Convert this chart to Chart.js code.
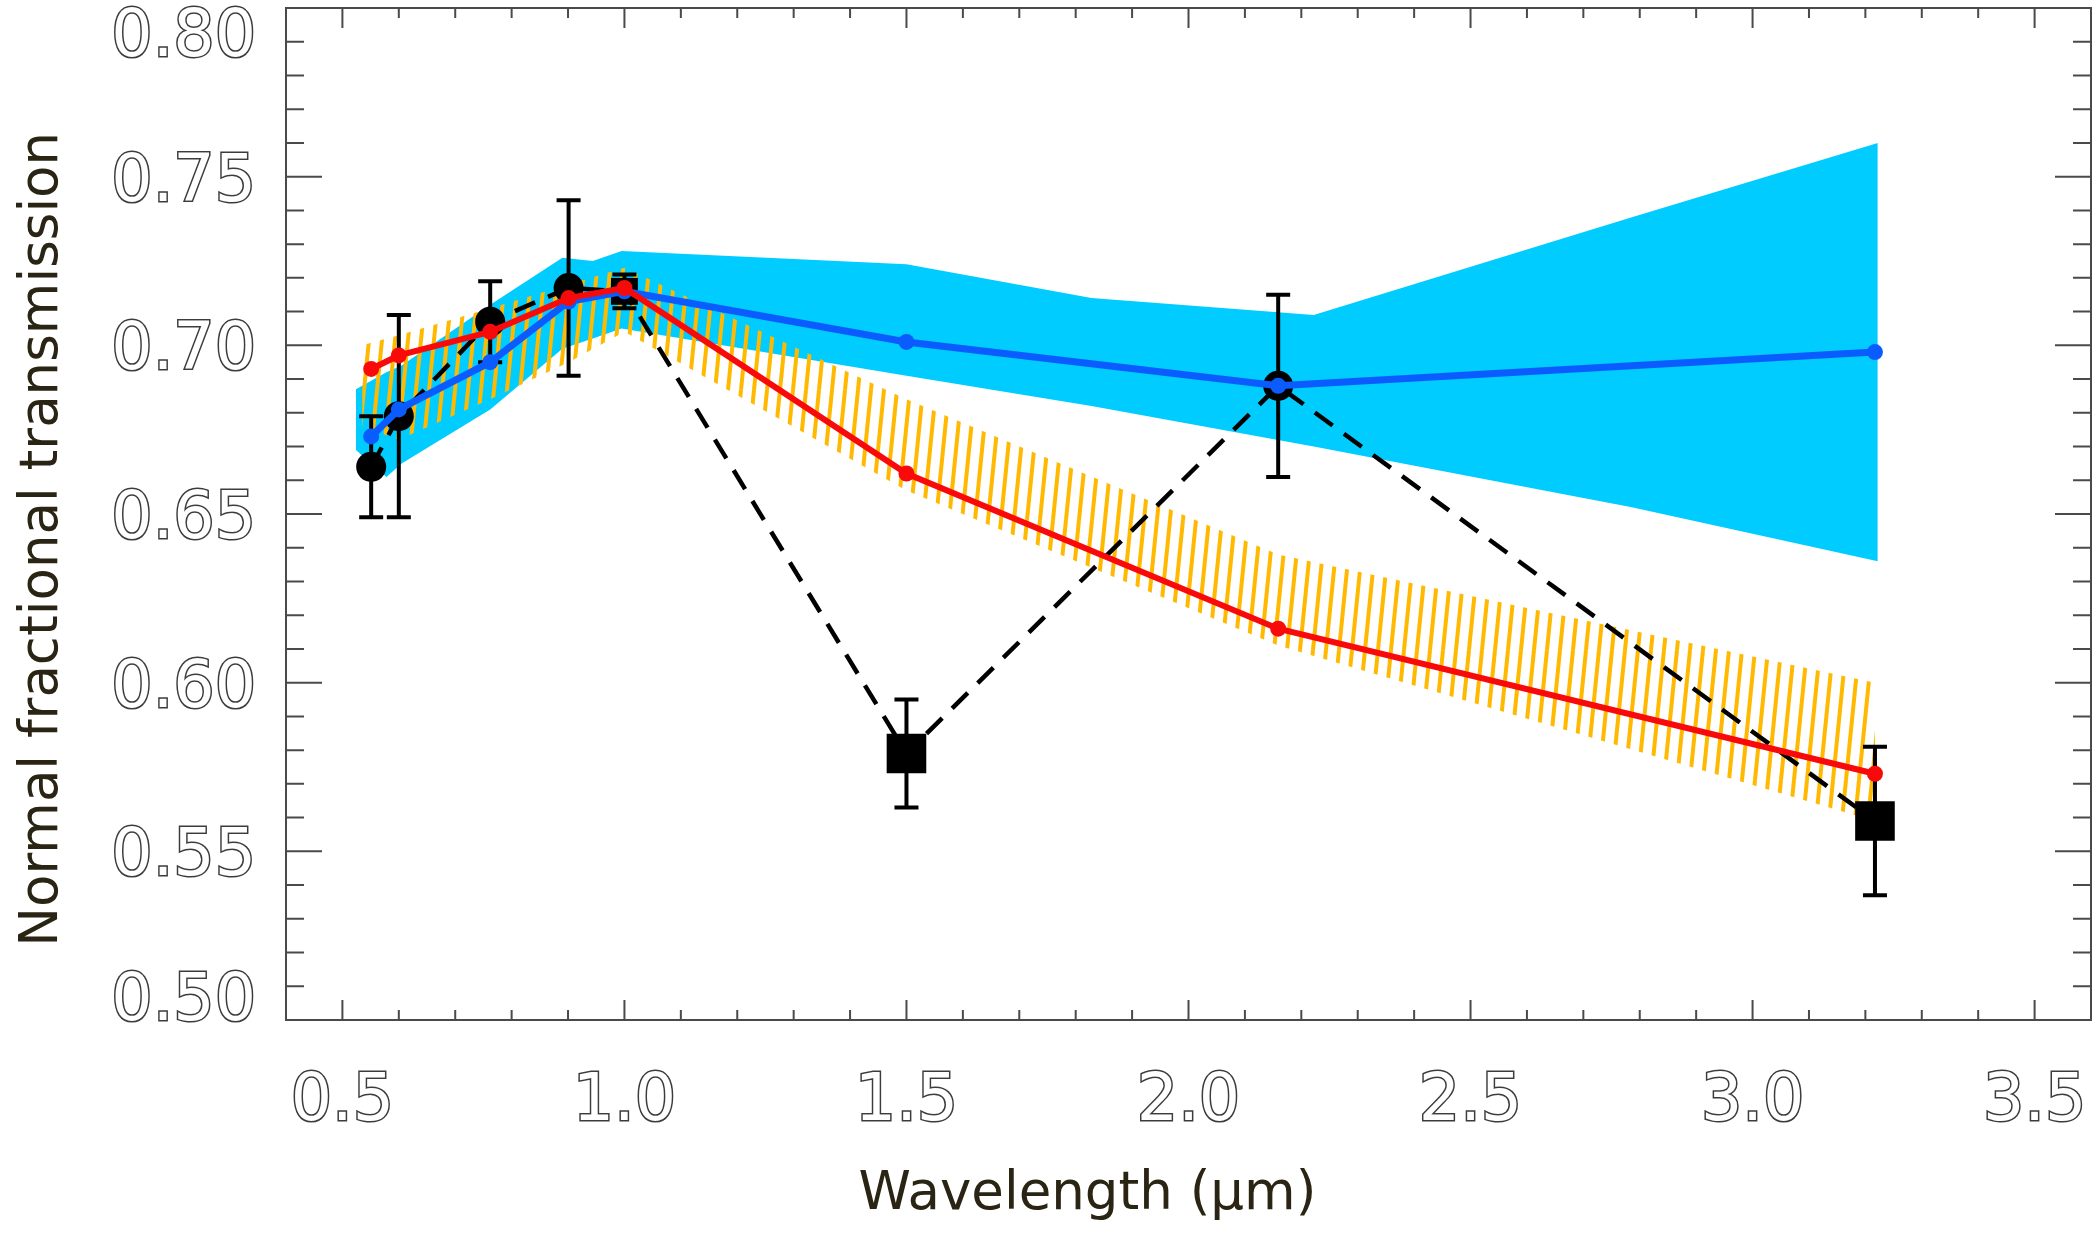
<!DOCTYPE html>
<html>
<head>
<meta charset="utf-8">
<title>Normal fractional transmission vs wavelength</title>
<script src="https://cdn.jsdelivr.net/npm/chart.js@4.4.1/dist/chart.umd.min.js"></script>
<style>
  html, body { margin: 0; padding: 0; background: #fff; overflow: hidden; }
  #wrap { width: 2100px; height: 1241px; }
  canvas { display: block; }
</style>
</head>
<body>
<div id="wrap"><canvas id="transmissionChart"></canvas></div>
<script>
// Observed points (black), wavelength in micron
const obsWavelength = [0.551, 0.600, 0.762, 0.901, 1.000, 1.500, 2.159, 3.217];
const obsTransmission = [0.664, 0.679, 0.707, 0.717, 0.716, 0.579, 0.688, 0.559];
const obsError = [0.015, 0.030, 0.012, 0.026, 0.005, 0.016, 0.027, 0.022];
const obsMarker = ['circle', 'circle', 'circle', 'circle', 'rect', 'rect', 'circle', 'rect'];

// Model curves, same wavelengths as the observations
const redModel = [0.693, 0.697, 0.704, 0.714, 0.717, 0.662, 0.616, 0.573];
const blueModel = [0.673, 0.681, 0.695, 0.713, 0.716, 0.701, 0.688, 0.698];

// Hatched orange envelope around the red model
const orangeBandX = [0.535, 0.600, 0.762, 0.901, 1.000, 1.500, 2.159, 3.217];
const orangeBandHigh = [0.700, 0.703, 0.711, 0.718, 0.723, 0.684, 0.638, 0.600];
const orangeBandLow = [0.676, 0.672, 0.684, 0.695, 0.704, 0.657, 0.611, 0.559];

// Cyan envelope around the blue model
const cyanBandX = [0.524, 0.578, 0.605, 0.762, 0.890, 0.944, 0.995, 1.500, 1.828, 2.222, 2.786, 3.222];
const cyanBandHigh = [0.687, 0.692, 0.694, 0.712, 0.726, 0.725, 0.728, 0.724, 0.714, 0.709, 0.738, 0.760];
const cyanBandLow = [0.669, 0.661, 0.665, 0.681, 0.699, 0.702, 0.705, 0.691, 0.682, 0.670, 0.652, 0.636];

const xTickValues = [0.5, 1.0, 1.5, 2.0, 2.5, 3.0, 3.5];
const yTickValues = [0.50, 0.55, 0.60, 0.65, 0.70, 0.75, 0.80];

const toPoints = (xs, ys) => xs.map((x, i) => ({ x: x, y: ys[i] }));

// steep orange hatch lines; tile is W wide and the line shifts W over its height so it joins up
function makeHatch() {
  const W = 13, H = 130;
  const c = document.createElement('canvas');
  c.width = W; c.height = H;
  const g = c.getContext('2d');
  g.strokeStyle = '#ffb900';
  g.lineWidth = 4;
  g.beginPath();
  for (let s = -W; s <= W; s += W) {
    g.moveTo(s, H); g.lineTo(s + W, 0);
  }
  g.stroke();
  return g.createPattern(c, 'repeat');
}

// vertical error bars with caps for datasets that carry an "errors" array
const errorBars = {
  id: 'errorBars',
  afterDatasetDraw(chart, args) {
    const ds = chart.data.datasets[args.index];
    if (!ds.errors) return;
    const y = chart.scales.y, ctx = chart.ctx;
    ctx.save();
    ctx.strokeStyle = '#000';
    ctx.lineWidth = 4;
    args.meta.data.forEach((pt, i) => {
      const v = ds.data[i].y, e = ds.errors[i];
      const top = y.getPixelForValue(v + e), bot = y.getPixelForValue(v - e);
      ctx.beginPath();
      ctx.moveTo(pt.x, top); ctx.lineTo(pt.x, bot);
      ctx.moveTo(pt.x - 12, top); ctx.lineTo(pt.x + 12, top);
      ctx.moveTo(pt.x - 12, bot); ctx.lineTo(pt.x + 12, bot);
      ctx.stroke();
    });
    ctx.restore();
  }
};

// box round the plot, inward tick marks on all four sides, hollow y labels
const frame = {
  id: 'frame',
  afterDatasetsDraw(chart) {
    const { ctx, chartArea: a, scales: { x, y } } = chart;
    ctx.save();
    ctx.strokeStyle = '#4a4a4a';
    ctx.lineWidth = 2;
    ctx.strokeRect(a.left, a.top, a.right - a.left, a.bottom - a.top);
    ctx.beginPath();
    for (let k = 5; k <= 35; k++) {
      const px = x.getPixelForValue(k / 10);
      const len = k % 5 === 0 ? 20 : 10;
      ctx.moveTo(px, a.bottom); ctx.lineTo(px, a.bottom - len);
      ctx.moveTo(px, a.top); ctx.lineTo(px, a.top + len);
    }
    for (let k = 51; k <= 79; k++) {
      const py = y.getPixelForValue(k / 100);
      const len = k % 5 === 0 ? 36 : 18;
      ctx.moveTo(a.left, py); ctx.lineTo(a.left + len, py);
      ctx.moveTo(a.right, py); ctx.lineTo(a.right - len, py);
    }
    ctx.stroke();

    ctx.font = '65px "DejaVu Sans"';
    ctx.textAlign = 'right';
    ctx.textBaseline = 'middle';
    ctx.lineWidth = 3;
    ctx.strokeStyle = '#3c3c3c';
    ctx.fillStyle = '#ffffff';
    yTickValues.forEach(v => {
      let py = y.getPixelForValue(v);
      py = Math.min(Math.max(py, a.top + 24), a.bottom - 24) + 7;
      const label = v.toFixed(2);
      ctx.strokeText(label, a.left - 30, py);
      ctx.fillText(label, a.left - 30, py);
    });
    ctx.restore();
  }
};

function drawTransmissionChart() {
  const el = document.getElementById('transmissionChart');
  if (!el) return;
  const hatch = makeHatch();

  new Chart(el.getContext('2d'), {
    type: 'line',
    data: {
      datasets: [
        { // red model
          data: toPoints(obsWavelength, redModel),
          borderColor: '#f80a0a', backgroundColor: '#f80a0a',
          borderWidth: 6, pointRadius: 8, pointBorderWidth: 0, fill: false
        },
        { // blue model
          data: toPoints(obsWavelength, blueModel),
          borderColor: '#0a5cff', backgroundColor: '#0a5cff',
          borderWidth: 7, pointRadius: 8, pointBorderWidth: 0, fill: false
        },
        { // observations, dashed
          data: toPoints(obsWavelength, obsTransmission),
          errors: obsError,
          borderColor: '#000', backgroundColor: '#000',
          borderWidth: 4.5, borderDash: [22, 14],
          pointStyle: obsMarker,
          pointRadius: [15, 15, 15, 15, 19, 28, 15, 28],
          pointBorderWidth: 0, fill: false
        },
        { // orange envelope, top edge
          data: toPoints(orangeBandX, orangeBandHigh),
          borderWidth: 0, pointRadius: 0, backgroundColor: hatch, fill: '+1'
        },
        { // orange envelope, bottom edge
          data: toPoints(orangeBandX, orangeBandLow),
          borderWidth: 0, pointRadius: 0, fill: false
        },
        { // cyan envelope, top edge
          data: toPoints(cyanBandX, cyanBandHigh),
          borderWidth: 0, pointRadius: 0, backgroundColor: '#00ccff', fill: '+1'
        },
        { // cyan envelope, bottom edge
          data: toPoints(cyanBandX, cyanBandLow),
          borderWidth: 0, pointRadius: 0, fill: false
        }
      ]
    },
    options: {
      responsive: true,
      maintainAspectRatio: false,
      animation: false,
      events: [],
      layout: { autoPadding: false, padding: { top: 8, right: 9, left: 0, bottom: 0 } },
      plugins: { legend: { display: false }, tooltip: { enabled: false } },
      scales: {
        x: {
          type: 'linear', min: 0.4, max: 3.6,
          grid: { display: false, drawTicks: false },
          border: { display: false },
          afterBuildTicks: s => { s.ticks = xTickValues.map(v => ({ value: v })); },
          afterFit: s => { s.height = 221; s.paddingLeft = 0; s.paddingRight = 0; },
          ticks: {
            callback: v => v.toFixed(1),
            font: { family: 'DejaVu Sans', size: 65 },
            color: '#ffffff', textStrokeColor: '#3c3c3c', textStrokeWidth: 3,
            padding: 44, maxRotation: 0
          },
          title: {
            display: true,
            text: 'Wavelength (µm)' + '\u00a0'.repeat(12),
            color: '#2a2414',
            font: { family: 'DejaVu Sans', size: 53, lineHeight: 1.2 },
            padding: { top: 0, bottom: 14 }
          }
        },
        y: {
          type: 'linear', min: 0.50, max: 0.80,
          grid: { display: false, drawTicks: false },
          border: { display: false },
          afterBuildTicks: s => { s.ticks = yTickValues.map(v => ({ value: v })); },
          afterFit: s => { s.width = 286; s.paddingTop = 0; s.paddingBottom = 0; },
          ticks: { display: false },
          title: {
            display: true,
            text: 'Normal fractional transmission' + '\u00a0'.repeat(3),
            color: '#2a2414',
            font: { family: 'DejaVu Sans', size: 53, lineHeight: 1.2 },
            padding: { top: 11, bottom: 0 }
          }
        }
      }
    },
    plugins: [errorBars, frame]
  });
}

window.addEventListener('DOMContentLoaded', drawTransmissionChart);
</script>
</body>
</html>
